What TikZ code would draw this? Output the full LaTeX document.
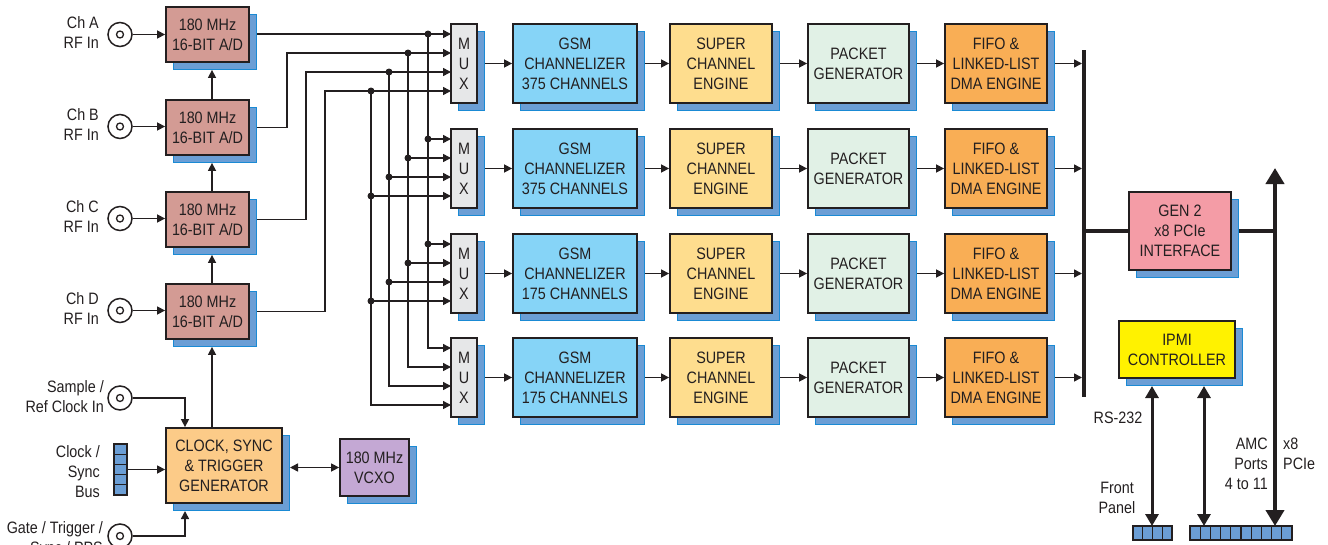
\documentclass[tikz,border=0pt]{standalone}
\usepackage{fontspec}
\setmainfont[FakeStretch=0.87]{Liberation Sans}
\usetikzlibrary{arrows.meta,shadows,backgrounds,calc}
\definecolor{ink}{HTML}{231F20}
\definecolor{shfill}{HTML}{6B9ED5}
\definecolor{shedge}{HTML}{1A8AD4}
\definecolor{adfill}{HTML}{D39B94}
\definecolor{muxfill}{HTML}{E6E7E8}
\definecolor{gsmfill}{HTML}{86D4F7}
\definecolor{supfill}{HTML}{FEDD8E}
\definecolor{pktfill}{HTML}{E1F1E6}
\definecolor{fifofill}{HTML}{F9AE55}
\definecolor{clkfill}{HTML}{FCCB88}
\definecolor{vcxofill}{HTML}{C4A8D4}
\definecolor{genfill}{HTML}{F49CA6}
\definecolor{ipmifill}{HTML}{FFF200}
\begin{document}
\begin{tikzpicture}[x=1pt,y=-1pt,font=\fontsize{16.5}{20}\selectfont,
  blk/.style={draw=ink,line width=1.8pt,align=center,inner sep=0pt,text=ink,
    drop shadow={shadow xshift=7pt,shadow yshift=-7pt,fill=shfill,draw=shedge,line width=1pt,opacity=1}},
  adbox/.style={blk,fill=adfill,minimum width=83pt,minimum height=55pt},
  muxbox/.style={blk,fill=muxfill,minimum width=26pt,minimum height=79pt},
  rowbox/.style={blk,minimum height=79pt},
  bnc/.style={circle,draw=ink,line width=1.5pt,minimum size=24pt,inner sep=0pt},
  lbl/.style={inner sep=0pt,text=ink},
  arr/.style={draw=ink,line width=1.5pt,-{Triangle[length=8pt,width=8pt]}},
  dbl/.style={draw=ink,line width=1.5pt,{Triangle[length=8pt,width=8pt]}-{Triangle[length=8pt,width=8pt]}},
  fatdbl/.style={draw=ink,line width=3pt,{Triangle[length=12pt,width=13pt]}-{Triangle[length=12pt,width=13pt]}},
  port/.style={fill=shfill,draw=ink,line width=1.2pt},
  wire/.style={draw=ink,line width=1.5pt},
  heavy/.style={draw=ink,line width=3.5pt}]
\useasboundingbox (0,0) rectangle (1328,544);

% ---------- A/D converters ----------
\node[adbox] (adA) at (207.5,34.5) {180 MHz\\16-BIT A/D};
\node[adbox] (adB) at (207.5,127.5) {180 MHz\\16-BIT A/D};
\node[adbox] (adC) at (207.5,219.5) {180 MHz\\16-BIT A/D};
\node[adbox] (adD) at (207.5,311.5) {180 MHz\\16-BIT A/D};

% ---------- RF inputs ----------
\foreach \c/\y in {A/34.5,B/126.5,C/218.5,D/310.5}{
  \node[bnc] (b\c) at (120,\y) {};
  \draw[ink,line width=1.3pt] (b\c.center) circle (3.5pt);
  \node[lbl,align=right,anchor=east] (l\c) at (99,\y-1.5) {Ch \c\\RF In};
}

% ---------- clock section ----------
\node[blk,fill=clkfill,minimum width=116pt,minimum height=75pt] (clk) at (224,465.5) {CLOCK, SYNC\\\& TRIGGER\\GENERATOR};
\node[blk,fill=vcxofill,minimum width=69pt,minimum height=57pt] (vcxo) at (374.5,467.5) {180 MHz\\VCXO};
\node[bnc] (bS) at (120,398) {};
\draw[ink,line width=1.3pt] (bS.center) circle (3.5pt);
\node[bnc] (bG) at (120,536) {};
\draw[ink,line width=1.3pt] (bG.center) circle (3.5pt);
\node[lbl,align=right,anchor=east] (lS) at (104,397) {Sample /\\Ref Clock In};
\node[lbl,align=right,anchor=east] (lB) at (100,471.5) {Clock /\\Sync\\Bus};
\node[lbl,align=right,anchor=north east] (lG) at (103,521) {Gate / Trigger /\\Sync / PPS};
\foreach \k in {0,...,4} \draw[port] (114,444+10.2*\k) rectangle ++(13,10.2);
\coordinate (csb) at (127,469.5);
\coordinate (sx) at (185,0);
\coordinate (gT) at (185,511);
\coordinate (dS) at ($(adD.south)+(4.5,7)$);
\coordinate (aS) at ($(adA.south)+(4.5,7)$);
\coordinate (bS2) at ($(adB.south)+(4.5,7)$);
\coordinate (cS) at ($(adC.south)+(4.5,7)$);
\coordinate (cr) at (290,0);

% ---------- processing rows ----------
\foreach \r/\t/\n in {1/24/375,2/129/375,3/234/175,4/338/175}{
  \node[muxbox] (m\r) at (464,\t+39.5) {M\\U\\X};
  \node[rowbox,fill=gsmfill,minimum width=124pt] (g\r) at (575,\t+39.5) {GSM\\CHANNELIZER\\\n\ CHANNELS};
  \node[rowbox,fill=supfill,minimum width=102pt] (s\r) at (721,\t+39.5) {SUPER\\CHANNEL\\ENGINE};
  \node[rowbox,fill=pktfill,minimum width=101pt] (p\r) at (858.5,\t+39.5) {PACKET\\GENERATOR};
  \node[rowbox,fill=fifofill,minimum width=102pt] (f\r) at (996,\t+39.5) {FIFO \&\\LINKED-LIST\\DMA ENGINE};
  \coordinate (bus\r) at (1082,\t+39.5);
  \foreach \i/\x in {1/428,2/408,3/389,4/371}{
    \coordinate (in-\r-\i) at (451,\t+10+19*\i-19);
    \coordinate (d-\r-\i) at (\x,\t+10+19*\i-19);
  }
}
\coordinate (tB) at (287,0);
\coordinate (tC) at (306,0);
\coordinate (tD) at (325,0);

% ---------- host side ----------
\node[blk,fill=genfill,minimum width=102pt,minimum height=78pt] (gen) at (1180,231) {GEN 2\\x8 PCIe\\INTERFACE};
\node[blk,fill=ipmifill,minimum width=116pt,minimum height=57pt] (ipmi) at (1177,349.5) {IPMI\\CONTROLLER};
\coordinate (busT) at (1084,50);
\coordinate (busB) at (1084,397);
\coordinate (busG) at (1084,231);
\coordinate (pT) at (1275,168);
\coordinate (pB) at (1275,526);
\coordinate (rsT) at (1152,386);
\coordinate (rsB) at (1152,526);
\coordinate (amT) at (1204,386);
\coordinate (amB) at (1204,526);
\foreach \k in {0,...,3} \draw[port] (1133+9.75*\k,526) rectangle ++(9.75,14);
\foreach \k in {0,...,9} \draw[port] (1190+10.2*\k,526) rectangle ++(10.2,14);
\node[lbl] (lrs) at (1118,418) {RS-232};
\node[lbl,align=center] (lfp) at (1117,497.5) {Front\\Panel};
\node[lbl,align=right,anchor=east] (lamc) at (1268,464) {AMC\\Ports\\4 to 11};
\node[lbl,align=left,anchor=west] (lx8) at (1283,453.5) {x8\\PCIe};

% ---------- connectors ----------
\begin{scope}[on background layer]
  \foreach \c in {A,B,C,D} \draw[arr] (b\c) -- (ad\c.west |- b\c);
  \draw[arr] (adB.north -| aS) -- (aS);
  \draw[arr] (adC.north -| bS2) -- (bS2);
  \draw[arr] (adD.north -| cS) -- (cS);
  \draw[arr] (clk.north -| dS) -- (dS);
  \draw[arr] (bS) -| (sx |- clk.north);
  \draw[arr] (bG) -| (gT);
  \draw[arr] (csb) -- (csb -| clk.west);
  \draw[dbl] (vcxo.west) -- (vcxo.west -| cr);
  \draw[arr] (adA.east |- in-1-1) -- (in-1-1);
  \draw[arr] (adB.east) -| (tB |- in-1-2) -- (in-1-2);
  \draw[arr] (adC.east) -| (tC |- in-1-3) -- (in-1-3);
  \draw[arr] (adD.east) -| (tD |- in-1-4) -- (in-1-4);
  \foreach \i in {1,...,4}{
    \draw[arr] (d-1-\i) |- (in-4-\i);
    \foreach \r in {2,3} \draw[arr] (d-\r-\i) -- (in-\r-\i);
  }
  \foreach \r in {1,...,4}{
    \draw[arr] (m\r) -- (g\r);
    \draw[arr] (g\r) -- (s\r);
    \draw[arr] (s\r) -- (p\r);
    \draw[arr] (p\r) -- (f\r);
    \draw[arr] (f\r) -- (bus\r);
  }
  \draw[heavy] (busT) -- (busB);
  \draw[heavy] (busG) -- (gen);
  \draw[heavy] (gen) -- (gen -| pT);
  \draw[draw=ink,line width=4pt,{Triangle[length=16pt,width=18pt]}-{Triangle[length=16pt,width=18pt]}] (pT) -- (pB);
  \draw[fatdbl] (rsT) -- (rsB);
  \draw[fatdbl] (amT) -- (amB);
\end{scope}
\foreach \r in {1,2,3}{
  \foreach \i in {1,...,4} \fill[ink] (d-\r-\i) circle (3.5pt);
}
\end{tikzpicture}
\end{document}
